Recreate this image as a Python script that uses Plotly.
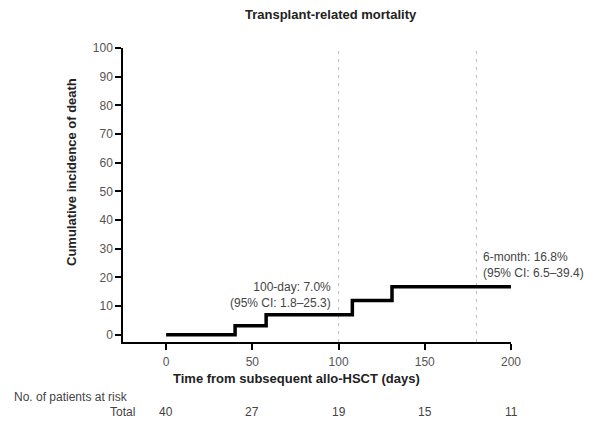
import plotly.graph_objects as go

# Data
times = [0, 40, 58, 108, 131, 200]
incidence = [0, 3.2, 7.0, 12.0, 16.8, 16.8]
ref_days = [100, 180]
x_ticks = [0, 50, 100, 150, 200]
y_ticks = [0, 10, 20, 30, 40, 50, 60, 70, 80, 90, 100]
risk_times = [0, 50, 100, 150, 200]
risk_total = [40, 27, 19, 15, 11]

FONT = "Liberation Sans, Arial, Helvetica, sans-serif"
GREY = "#555555"
TXT = "#444444"

# pixel helpers for paper positions (plot area: x 123..511, y 48..342)
def px(xp):
    return (xp - 123) / 388

def py(yp):
    return (342 - yp) / 294

fig = go.Figure()
for d in ref_days:
    fig.add_trace(go.Scatter(x=[d, d], y=[-2.5, 100], mode="lines",
                             line=dict(color="#bdbdbd", width=1, dash="3px,5px"),
                             showlegend=False, hoverinfo="skip"))
fig.add_trace(go.Scatter(x=times, y=incidence, mode="lines", line_shape="hv",
                         line=dict(color="black", width=3.5), showlegend=False))

ann = []
ann.append(dict(text="<b>Transplant-related mortality</b>", x=px(331), y=py(14),
                xref="paper", yref="paper", xanchor="center", yanchor="middle",
                showarrow=False, font=dict(size=13, color="#222")))
ann.append(dict(text="<b>Cumulative incidence of death</b>", x=px(71), y=py(172),
                xref="paper", yref="paper", xanchor="center", yanchor="middle",
                showarrow=False, textangle=-90, font=dict(size=13, color="#222")))
ann.append(dict(text="<b>Time from subsequent allo-HSCT (days)</b>", x=px(296), y=py(378),
                xref="paper", yref="paper", xanchor="center", yanchor="middle",
                showarrow=False, font=dict(size=13, color="#222")))
ann.append(dict(text="100-day: 7.0%<br>(95% CI: 1.8–25.3)", x=96.8, y=13.9, xref="x", yref="y",
                xanchor="right", yanchor="middle", align="right", showarrow=False,
                font=dict(size=12, color=TXT)))
ann.append(dict(text="6-month: 16.8%<br>(95% CI: 6.5–39.4)", x=182.6, y=24.5, xref="x", yref="y",
                xanchor="left", yanchor="middle", align="left", showarrow=False,
                font=dict(size=12, color=TXT)))
ann.append(dict(text="No. of patients at risk", x=px(12), y=py(397), xref="paper", yref="paper",
                xanchor="left", yanchor="middle", showarrow=False, font=dict(size=12, color=TXT)))
ann.append(dict(text="Total", x=px(137), y=py(412), xref="paper", yref="paper",
                xanchor="right", yanchor="middle", showarrow=False, font=dict(size=12, color=TXT)))
for t, n in zip(risk_times, risk_total):
    ann.append(dict(text=str(n), x=t, y=py(412), xref="x", yref="paper",
                    xanchor="center", yanchor="middle",
                    showarrow=False, font=dict(size=12, color=TXT)))

fig.update_layout(
    width=594, height=421,
    margin=dict(l=123, r=83, t=48, b=79),
    plot_bgcolor="white", paper_bgcolor="white",
    font=dict(family=FONT, size=12, color=GREY),
    annotations=ann,
    xaxis=dict(range=[-25, 200], tickvals=x_ticks, showline=True, linecolor="black", linewidth=1.5,
               ticks="outside", ticklen=6, tickwidth=1.5, tickcolor="black", showgrid=False,
               zeroline=False, ticklabelstandoff=2, tickfont=dict(size=12, color=GREY)),
    yaxis=dict(range=[-2.5, 100], tickvals=y_ticks, showline=True, linecolor="black", linewidth=1.5,
               ticks="outside", ticklen=6, tickwidth=1.5, tickcolor="black", showgrid=False,
               zeroline=False, tickfont=dict(size=12, color=GREY)),
)
fig.write_html("out.html")
